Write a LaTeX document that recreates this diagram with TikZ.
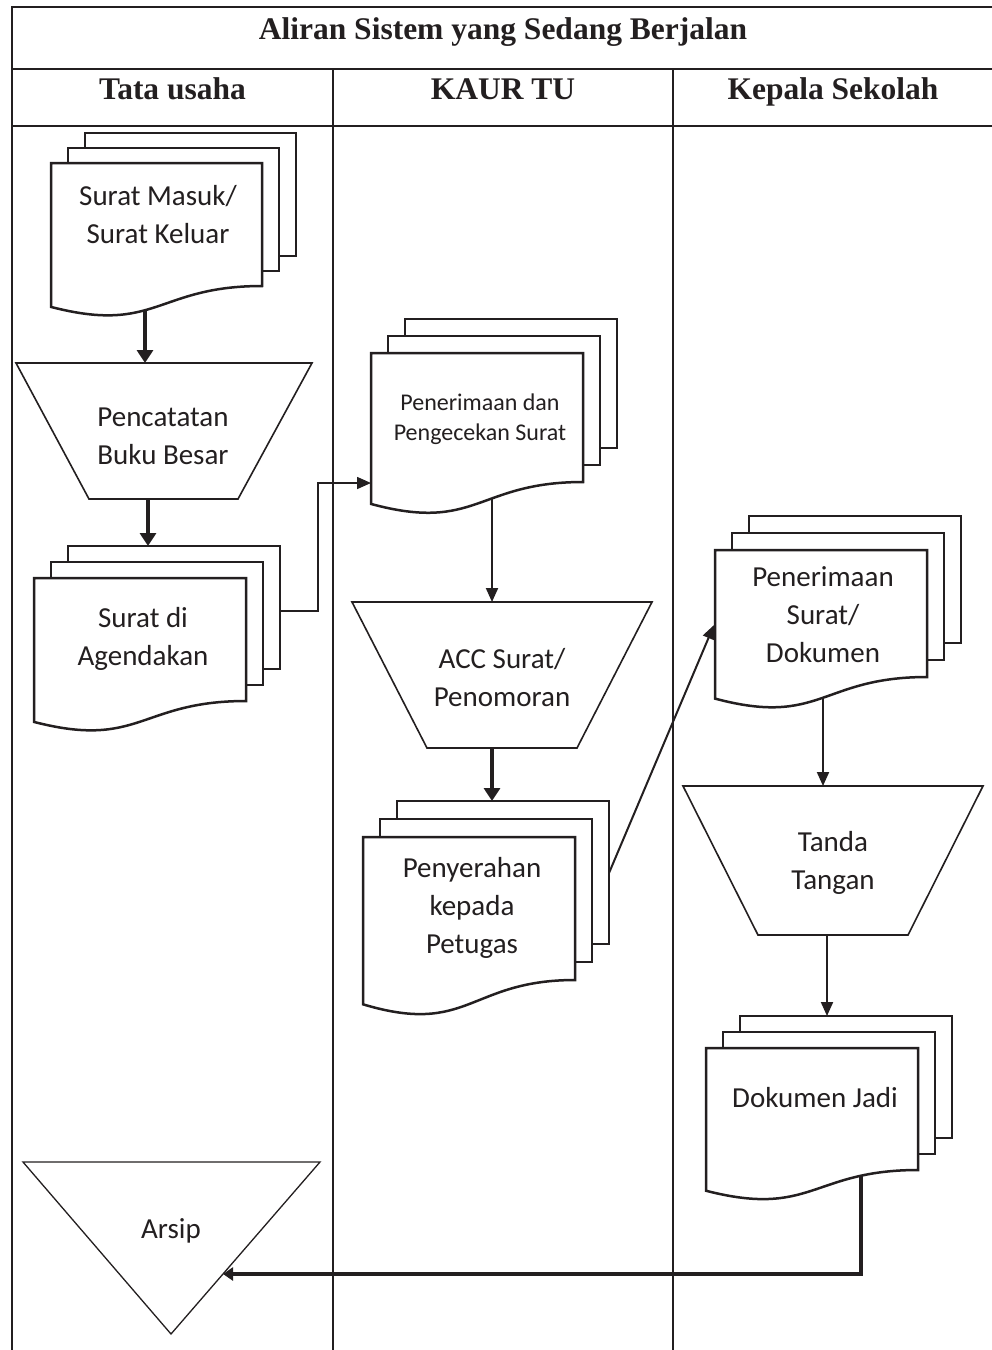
\documentclass[tikz,border=0pt]{standalone}
\usepackage{fontspec}
\setmainfont{Liberation Serif}
\newfontfamily\calfont{Carlito}
\usetikzlibrary{arrows.meta,calc}
\pgfdeclarelayer{bg}
\pgfsetlayers{bg,main}
\definecolor{ink}{HTML}{231F20}
% multi-document: #1 name, #2 left, #3 top, #4 width, #5 height to right corner, #6 layer dy
\newcommand{\mdoc}[6]{%
  \draw[docline] ({#2+34},{#3-2*#6}) rectangle ++(#4,#5);
  \draw[docline] ({#2+17},{#3-#6}) rectangle ++(#4,#5);
  \draw[docline] (#2,#3) -- ({#2+#4},#3) -- ({#2+#4},{#3+#5})
     .. controls ({#2+0.5*#4},{#3+#5}) and ({#2+0.5*#4},{#3+1.393*#5}) ..
     (#2,{#3+1.17*#5}) -- cycle;
}
\begin{document}
\begin{tikzpicture}[x=1pt,y=-1pt,
  tbl/.style={line width=2pt,draw=ink},
  docline/.style={line width=2.5pt,draw=ink,fill=white,line join=miter},
  procline/.style={line width=1.6pt,draw=ink,fill=white},
  thinarrow/.style={line width=2pt,draw=ink,-{Triangle[length=14pt,width=12pt]}},
  thickarrow/.style={line width=3.8pt,draw=ink,-{Triangle[length=13pt,width=16pt]}},
  lbl/.style={font=\calfont\fontsize{29}{38}\selectfont,align=center,text=ink,inner sep=0pt},
  smalllbl/.style={font=\calfont\fontsize{24}{30}\selectfont,align=center,text=ink,inner sep=0pt},
  hdr/.style={font=\bfseries\fontsize{31.5}{36}\selectfont,text=ink,inner sep=0pt,anchor=base}
]
\useasboundingbox (0,0) rectangle (992,1350);

% ---------- shapes ----------
\mdoc{sm}{51}{163}{211}{123}{15}
\draw[procline] (16,363) -- (312,363) -- (238,499) -- (89,499) -- cycle;
\mdoc{ag}{34}{578}{212}{123}{16}
\mdoc{pd}{371}{353}{212}{129}{17}
\draw[procline] (352,602) -- (652,602) -- (577,748) -- (427,748) -- cycle;
\mdoc{py}{363}{837}{212}{143}{18}
\mdoc{ps}{715}{550}{212}{127}{17}
\draw[procline] (683,786) -- (983,786) -- (908,935) -- (758,935) -- cycle;
\mdoc{dj}{706}{1048}{212}{122}{16}
\draw[line width=1.3pt,draw=ink,fill=white] (23,1162) -- (320,1162) -- (171,1334) -- cycle;

% ---------- texts ----------
\node[hdr] (title) at (503,39) {Aliran Sistem yang Sedang Berjalan};
\node[hdr] (h1) at (172.5,99) {Tata usaha};
\node[hdr] (h2) at (503,99) {KAUR TU};
\node[hdr] (h3) at (833,99) {Kepala Sekolah};

\node[lbl] (sm) at (158,215) {Surat Masuk/\\Surat Keluar};
\node[lbl] (pb) at (163,436) {Pencatatan\\Buku Besar};
\node[lbl] (ag) at (143,639) {Surat di\\Agendakan};
\node[smalllbl] (pd) at (480,419) {Penerimaan dan\\Pengecekan Surat};
\node[lbl] (acc) at (502,678) {ACC Surat/\\Penomoran};
\node[lbl] (py) at (472,908) {Penyerahan\\kepada\\Petugas};
\node[lbl] (ps) at (823,615) {Penerimaan\\Surat/\\Dokumen};
\node[lbl] (tt) at (833,863) {Tanda\\Tangan};
\node[lbl] (dj) at (815,1098) {Dokumen Jadi};
\node[lbl] (ar) at (171,1231) {Arsip};

% ---------- connector ends ----------
\coordinate (sm-out) at (145,300);
\coordinate (pb-in) at (145,363);
\coordinate (pb-out) at (148,499);
\coordinate (ag-in) at (148,546);
\coordinate (ag-out) at (280,611);
\coordinate (pd-in) at (371,483);
\coordinate (pd-out) at (492,480);
\coordinate (acc-in) at (492,602);
\coordinate (acc-out) at (492,748);
\coordinate (py-in) at (492,801);
\coordinate (py-out) at (609,873);
\coordinate (ps-in) at (714,625);
\coordinate (ps-out) at (823,690);
\coordinate (tt-in) at (823,786);
\coordinate (tt-out) at (827,935);
\coordinate (dj-in) at (827,1016);
\coordinate (dj-out) at (861,1160);
\coordinate (ar-in) at (223,1274);

\begin{pgfonlayer}{bg}
  % table
  \draw[tbl] (12,1352) -- (12,7) -- (994,7) -- (994,1352);
  \draw[tbl] (12,69) -- (994,69);
  \draw[tbl] (12,126) -- (994,126);
  \draw[tbl] (333,69) -- (333,1352);
  \draw[tbl] (673,69) -- (673,1352);
  % connectors
  \draw[thickarrow] (sm-out) -- (pb-in);
  \draw[thickarrow] (pb-out) -- (ag-in);
  \draw[line width=1.6pt,draw=ink,-{Triangle[length=14pt,width=12pt]}] (ag-out) -- ++(38,0) |- (pd-in);
  \draw[thinarrow] (pd-out) -- (acc-in);
  \draw[thickarrow] (acc-out) -- (py-in);
  \draw[thinarrow] (py-out) -- (ps-in);
  \draw[thinarrow] (ps-out) -- (tt-in);
  \draw[thinarrow] (tt-out) -- (dj-in);
  \draw[line width=3.8pt,draw=ink,-{Triangle[length=10pt,width=13pt]}] (dj-out) |- (ar-in);
\end{pgfonlayer}
\end{tikzpicture}
\end{document}
